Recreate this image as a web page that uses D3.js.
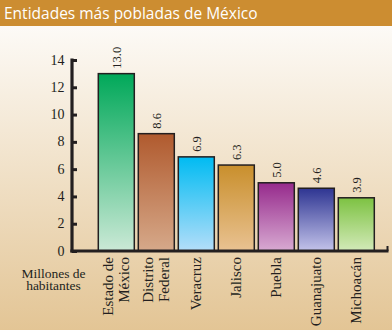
<!DOCTYPE html>
<html>
<head>
<meta charset="utf-8">
<script src="https://cdn.jsdelivr.net/npm/d3@7/dist/d3.min.js"></script>
<style>
  html, body { margin: 0; padding: 0; background: #fff; }
  svg { display: block; }
</style>
</head>
<body>
<svg id="chart" width="392" height="330"></svg>
<script>
// Most populated Mexican states, millions of inhabitants
const states = [["Estado de", "México"], ["Distrito", "Federal"], ["Veracruz"], ["Jalisco"], ["Puebla"], ["Guanajuato"], ["Michoacán"]];
const population = [13.0, 8.6, 6.9, 6.3, 5.0, 4.6, 3.9];
const topColors = ["#00a859", "#b05a2e", "#00bbf2", "#c98f2c", "#962a8c", "#2e3592", "#7dc242"];
const bottomColors = ["#cbe9d6", "#d6a98a", "#b4def9", "#e9c292", "#d8aad2", "#c3c3ea", "#d3eab9"];
const yTicks = [0, 2, 4, 6, 8, 10, 12, 14];

const W = 392, H = 330;
const svg = d3.select("#chart");
const defs = svg.append("defs");

// page background: white fading to tan
const bg = defs.append("linearGradient").attr("id", "bg").attr("x1", 0).attr("y1", 0).attr("x2", 0).attr("y2", 1);
bg.append("stop").attr("offset", "0%").attr("stop-color", "#ffffff");
bg.append("stop").attr("offset", "100%").attr("stop-color", "#e3c595");
svg.append("rect").attr("x", 0).attr("y", 0).attr("width", W).attr("height", H).attr("fill", "url(#bg)");

// title band
svg.append("rect").attr("x", 0).attr("y", 0).attr("width", W).attr("height", 26).attr("fill", "#cc8d31");
svg.append("text").attr("x", 4).attr("y", 19)
  .attr("fill", "#ffffff")
  .attr("font-family", "'Open Sans', 'DejaVu Sans', sans-serif")
  .attr("font-size", 15.5)
  .text("Entidades más pobladas de México");

const x = d3.scaleBand().domain(d3.range(states.length)).range([96.3, 376.3]).paddingInner(0.1).paddingOuter(0.05);
const y = d3.scaleLinear().domain([0, 14]).range([251, 60]);

// per-bar vertical gradients
population.forEach((v, i) => {
  const g = defs.append("linearGradient").attr("id", "bar" + i).attr("x1", 0).attr("y1", 0).attr("x2", 0).attr("y2", 1);
  g.append("stop").attr("offset", "0%").attr("stop-color", topColors[i]);
  g.append("stop").attr("offset", "100%").attr("stop-color", bottomColors[i]);
});

const serif = "'Liberation Serif', 'Times New Roman', 'DejaVu Serif', serif";

svg.append("g").selectAll("rect").data(population).join("rect")
  .attr("x", (d, i) => x(i))
  .attr("y", d => y(d))
  .attr("width", x.bandwidth())
  .attr("height", d => y(0) - y(d))
  .attr("fill", (d, i) => `url(#bar${i})`)
  .attr("stroke", "#231f20")
  .attr("stroke-width", 1.5);

// value labels, rotated, above each bar
svg.append("g").selectAll("text").data(population).join("text")
  .attr("transform", (d, i) => `translate(${x(i) + x.bandwidth() / 2 + 4.5},${y(d) - 5}) rotate(-90)`)
  .attr("font-family", serif)
  .attr("font-size", 12.5)
  .attr("fill", "#231f20")
  .attr("text-anchor", "start")
  .text(d => d.toFixed(1));

// y axis
const yAxis = d3.axisRight(y).tickValues(yTicks).tickSize(5).tickFormat("");
const ya = svg.append("g").attr("transform", "translate(72,0)").call(yAxis);
ya.select(".domain").remove();
ya.selectAll(".tick line").attr("stroke", "#231f20").attr("stroke-width", 3);
svg.append("line").attr("x1", 72).attr("x2", 72).attr("y1", y(14) - 1.5).attr("y2", y(0) + 1.5)
  .attr("stroke", "#231f20").attr("stroke-width", 3.2);
svg.append("g").selectAll("text").data(yTicks).join("text")
  .attr("x", 64.5).attr("y", d => y(d) + 4.5)
  .attr("text-anchor", "end")
  .attr("font-family", serif)
  .attr("font-size", 14)
  .attr("fill", "#231f20")
  .text(d => d);

// baseline with small end stop
svg.append("line").attr("x1", 70.4).attr("x2", 388.5).attr("y1", y(0)).attr("y2", y(0))
  .attr("stroke", "#231f20").attr("stroke-width", 3.2);
svg.append("line").attr("x1", 387.5).attr("x2", 387.5).attr("y1", y(0)).attr("y2", y(0) - 5)
  .attr("stroke", "#231f20").attr("stroke-width", 2);

// category labels, rotated
const cat = svg.append("g").selectAll("text").data(states).join("text")
  .attr("transform", (d, i) => `translate(${x(i) + x.bandwidth() / 2},257) rotate(-90)`)
  .attr("font-family", serif)
  .attr("font-size", 15)
  .attr("fill", "#231f20")
  .attr("text-anchor", "end");
cat.selectAll("tspan").data(d => d.map((t, k) => ({ t, k, n: d.length }))).join("tspan")
  .attr("x", 0)
  .attr("y", d => (d.n === 1 ? 5 : (d.k === 0 ? -3 : 13)))
  .text(d => d.t);

// unit note
const unit = svg.append("text")
  .attr("font-family", serif)
  .attr("font-size", 13.5)
  .attr("fill", "#231f20")
  .attr("text-anchor", "middle");
unit.append("tspan").attr("x", 53.5).attr("y", 278).text("Millones de");
unit.append("tspan").attr("x", 53.5).attr("y", 290).text("habitantes");
</script>
</body>
</html>
